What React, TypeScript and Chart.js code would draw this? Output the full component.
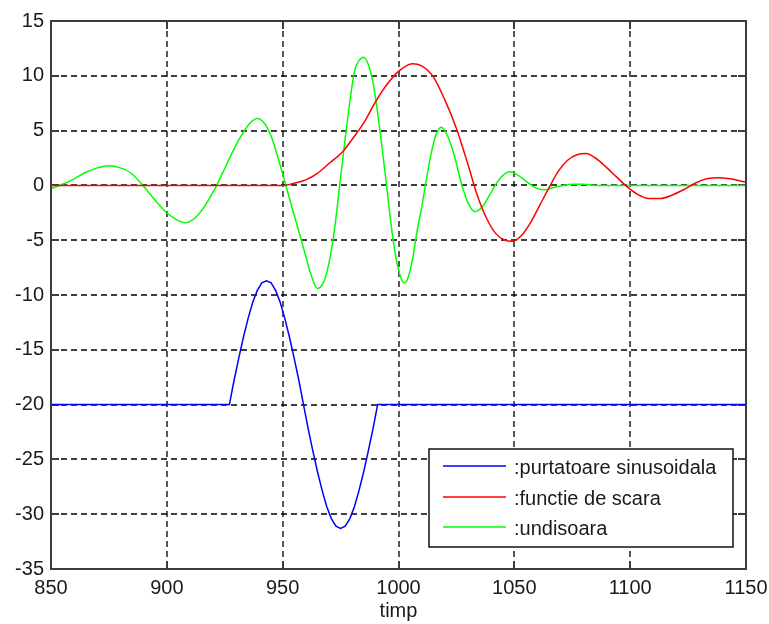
import React, { useEffect, useRef } from 'react';
import { Chart, registerables } from 'chart.js';

Chart.register(...registerables);

// ---- data ----
const xTickValues = [850, 900, 950, 1000, 1050, 1100, 1150];
const yTickValues = [-35, -30, -25, -20, -15, -10, -5, 0, 5, 10, 15];
const xTitle = 'timp';

const blueLabel = ':purtatoare sinusoidala';
const blueX = [850, 927, 929, 931, 933, 935, 937, 939, 941, 943, 945, 947, 949, 951, 953, 955, 957, 959, 961, 963, 965, 967, 969, 971, 973, 975, 977, 979, 981, 983, 985, 987, 989, 991, 1150];
const blueY = [-20, -20, -17.8, -15.8, -13.9, -12.2, -10.7, -9.6, -8.9, -8.7, -8.9, -9.6, -10.7, -12.2, -13.9, -15.8, -17.8, -20, -22.2, -24.2, -26.1, -27.8, -29.3, -30.4, -31.1, -31.3, -31.1, -30.4, -29.3, -27.8, -26.1, -24.2, -22.2, -20, -20];

const redLabel = ':functie de scara';
const redX = [850, 950, 955, 960, 965, 970, 976, 980, 985, 990, 995, 1000, 1006, 1010, 1015, 1020, 1025, 1030, 1034, 1038, 1042, 1046, 1049, 1053, 1057, 1061, 1065, 1069, 1073, 1077, 1081, 1085, 1090, 1094, 1098, 1103, 1108, 1113, 1118, 1123, 1128, 1133, 1138, 1143, 1150];
const redY = [0, 0, 0.2, 0.5, 1.1, 2.0, 3.1, 4.2, 5.7, 7.6, 9.2, 10.4, 11.1, 10.9, 9.9, 7.8, 5.2, 1.9, -0.9, -3.0, -4.4, -5.0, -5.1, -4.6, -3.4, -1.8, -0.2, 1.3, 2.3, 2.8, 2.9, 2.5, 1.6, 0.8, 0.0, -0.8, -1.2, -1.2, -0.9, -0.4, 0.2, 0.6, 0.7, 0.6, 0.3];

const greenLabel = ':undisoara';
const greenX = [850, 855, 860, 865, 870, 875, 880, 884, 888, 892, 896, 900, 904, 908, 912, 916, 920, 924, 928, 932, 936, 939, 942, 945, 948, 951, 954, 957, 960, 962, 965, 967, 969, 972, 975, 978, 981, 983, 985, 987, 989, 991, 993, 995, 997, 999, 1001, 1002.5, 1004, 1006, 1008, 1010, 1012, 1014, 1016, 1018.5, 1021, 1024, 1027, 1030, 1033, 1036, 1039, 1042, 1045, 1048, 1051, 1055, 1059, 1063, 1067, 1071, 1075, 1080, 1085, 1150];
const greenY = [-0.3, 0.1, 0.6, 1.2, 1.6, 1.8, 1.6, 1.2, 0.4, -0.6, -1.6, -2.5, -3.1, -3.4, -3.0, -2.0, -0.6, 1.1, 2.9, 4.5, 5.7, 6.1, 5.7, 4.5, 2.5, 0.3, -2.0, -4.2, -6.5, -8.0, -9.4, -9.1, -8.0, -4.6, 0.7, 6.0, 10.4, 11.4, 11.7, 11.0, 9.4, 6.6, 3.3, -0.3, -3.9, -6.7, -8.4, -8.9, -8.5, -6.8, -4.2, -2.0, 0.5, 2.8, 4.5, 5.3, 4.6, 2.8, 0.3, -1.6, -2.4, -2.0, -1.0, 0.1, 0.9, 1.25, 1.0, 0.4, -0.2, -0.4, -0.2, 0, 0.1, 0.1, 0, 0];

const FONT = '"Liberation Sans", Arial, Helvetica, sans-serif';
const TEXT_COLOR = '#1a1a1a';

const toPoints = (xs: number[], ys: number[]) => xs.map((x, i) => ({ x, y: ys[i] }));

const matlabPlugin = {
  id: 'matlabDecor',
  beforeDatasetsDraw(chart: any) {
    const { ctx, chartArea, scales } = chart;
    const { left, right, top, bottom } = chartArea;
    const xs = scales.x;
    const ys = scales.y;
    ctx.save();
    // dashed grid
    ctx.strokeStyle = '#000';
    ctx.lineWidth = 1.3;
    ctx.setLineDash([6, 4]);
    ctx.beginPath();
    xTickValues.forEach((v) => {
      const px = Math.round(xs.getPixelForValue(v));
      if (px <= left + 1 || px >= right - 1) return;
      ctx.moveTo(px, top);
      ctx.lineTo(px, bottom);
    });
    yTickValues.forEach((v) => {
      const py = Math.round(ys.getPixelForValue(v));
      if (py <= top + 1 || py >= bottom - 1) return;
      ctx.moveTo(left, py);
      ctx.lineTo(right, py);
    });
    ctx.stroke();
    // inner tick marks
    ctx.setLineDash([]);
    ctx.strokeStyle = '#3c3c3c';
    ctx.lineWidth = 2;
    const tl = 8;
    ctx.beginPath();
    xTickValues.forEach((v) => {
      const px = Math.round(xs.getPixelForValue(v));
      ctx.moveTo(px, bottom);
      ctx.lineTo(px, bottom - tl);
      ctx.moveTo(px, top);
      ctx.lineTo(px, top + tl);
    });
    yTickValues.forEach((v) => {
      const py = Math.round(ys.getPixelForValue(v));
      ctx.moveTo(left, py);
      ctx.lineTo(left + tl, py);
      ctx.moveTo(right, py);
      ctx.lineTo(right - tl, py);
    });
    ctx.stroke();
    ctx.restore();
  },
  afterDatasetsDraw(chart: any) {
    const { ctx, chartArea } = chart;
    const { left, right, top, bottom } = chartArea;
    ctx.save();
    // axes box
    ctx.strokeStyle = '#3c3c3c';
    ctx.lineWidth = 2;
    ctx.setLineDash([]);
    ctx.strokeRect(left, top, right - left, bottom - top);

    // legend box
    const lx = 429, ly = 449, lw = 304, lh = 98;
    ctx.fillStyle = '#ffffff';
    ctx.fillRect(lx, ly, lw, lh);
    ctx.strokeStyle = '#111';
    ctx.lineWidth = 1.5;
    ctx.strokeRect(lx, ly, lw, lh);
    const rows = [466, 497, 527];
    ctx.font = `20px ${FONT}`;
    ctx.textBaseline = 'middle';
    ctx.textAlign = 'left';
    chart.data.datasets.forEach((ds: any, i: number) => {
      const ry = rows[i];
      ctx.strokeStyle = ds.borderColor;
      ctx.lineWidth = 1.5;
      ctx.beginPath();
      ctx.moveTo(lx + 14, ry);
      ctx.lineTo(lx + 77, ry);
      ctx.stroke();
      ctx.fillStyle = TEXT_COLOR;
      ctx.fillText(ds.label, lx + 85, ry + 2);
    });

    // x title
    ctx.font = `20px ${FONT}`;
    ctx.fillStyle = TEXT_COLOR;
    ctx.textAlign = 'center';
    ctx.textBaseline = 'alphabetic';
    ctx.fillText(xTitle, (left + right) / 2, 617);
    ctx.restore();
  },
};

export default function App() {
  const canvasRef = useRef<HTMLCanvasElement | null>(null);

  useEffect(() => {
    const canvas = canvasRef.current;
    if (!canvas) return;
    const chart = new Chart(canvas, {
      type: 'line',
      data: {
        datasets: [
          {
            label: blueLabel,
            data: toPoints(blueX, blueY),
            borderColor: '#0000ff',
            borderWidth: 1.5,
            pointRadius: 0,
            tension: 0,
          },
          {
            label: redLabel,
            data: toPoints(redX, redY),
            borderColor: '#ff0000',
            borderWidth: 1.5,
            pointRadius: 0,
            cubicInterpolationMode: 'monotone',
          },
          {
            label: greenLabel,
            data: toPoints(greenX, greenY),
            borderColor: '#00ff00',
            borderWidth: 1.5,
            pointRadius: 0,
            cubicInterpolationMode: 'monotone',
          },
        ],
      },
      options: {
        animation: false,
        responsive: false,
        devicePixelRatio: 1,
        layout: { padding: { top: 21, right: 23, left: 0, bottom: 0 } },
        plugins: {
          legend: { display: false },
          tooltip: { enabled: false },
          title: { display: false },
        },
        scales: {
          x: {
            type: 'linear',
            min: 850,
            max: 1150,
            afterBuildTicks: (scale: any) => {
              scale.ticks = xTickValues.map((v) => ({ value: v }));
            },
            afterFit: (scale: any) => {
              scale.height = 55;
              scale.paddingLeft = 0;
              scale.paddingRight = 0;
            },
            grid: { display: false, drawTicks: false },
            border: { display: false },
            ticks: {
              padding: 7,
              maxRotation: 0,
              autoSkip: false,
              color: TEXT_COLOR,
              font: { family: FONT, size: 20 },
              callback: (v: any) => String(v),
            },
          },
          y: {
            type: 'linear',
            min: -35,
            max: 15,
            afterBuildTicks: (scale: any) => {
              scale.ticks = yTickValues.map((v) => ({ value: v }));
            },
            afterFit: (scale: any) => {
              scale.width = 51;
              scale.paddingTop = 0;
              scale.paddingBottom = 0;
            },
            grid: { display: false, drawTicks: false },
            border: { display: false },
            ticks: {
              padding: 7,
              autoSkip: false,
              color: TEXT_COLOR,
              font: { family: FONT, size: 20 },
              callback: (v: any) => String(v),
            },
          },
        },
      } as any,
      plugins: [matlabPlugin],
    });
    return () => chart.destroy();
  }, []);

  return (
    <div style={{ position: 'absolute', left: 0, top: 0, width: 769, height: 624, background: '#fff' }}>
      <canvas ref={canvasRef} width={769} height={624} style={{ width: 769, height: 624, display: 'block' }} />
    </div>
  );
}
